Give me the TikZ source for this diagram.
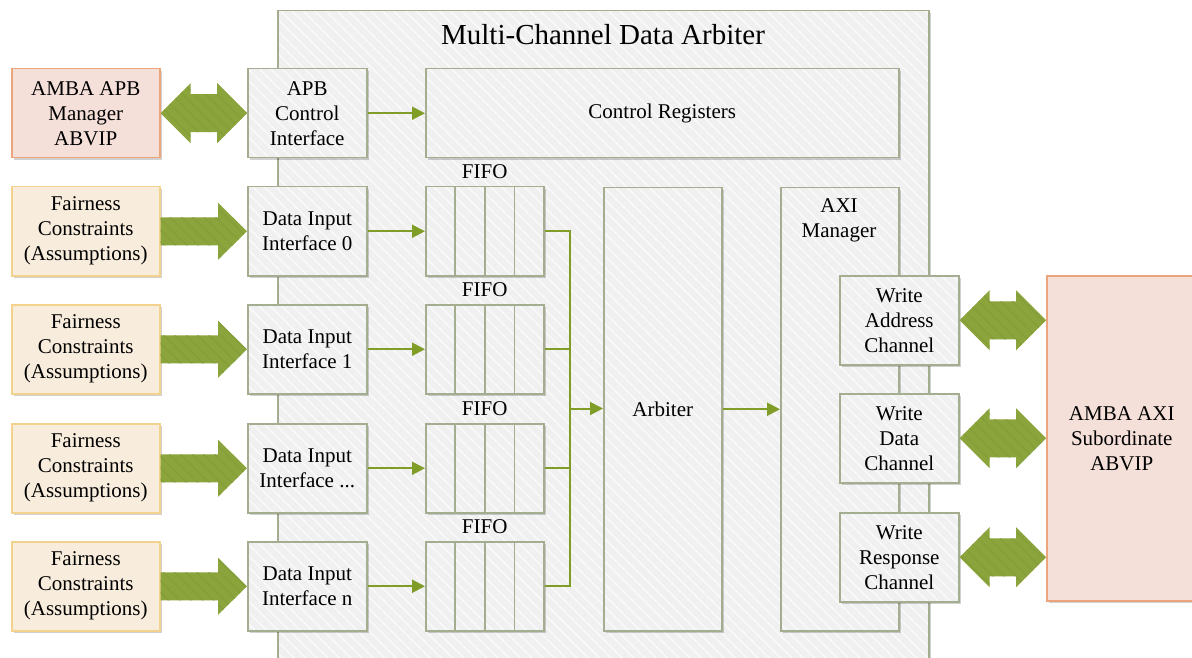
\documentclass[tikz,border=0pt]{standalone}
\usepackage{fontspec}
\setmainfont{Liberation Serif}
\usetikzlibrary{calc,shadows,patterns.meta,arrows.meta}
\definecolor{boxfill}{RGB}{240,240,240}
\definecolor{boxline}{RGB}{165,173,145}
\definecolor{pinkfill}{RGB}{244,223,217}
\definecolor{pinkline}{RGB}{236,164,122}
\definecolor{creamfill}{RGB}{248,236,220}
\definecolor{creamline}{RGB}{242,210,140}
\definecolor{agreen}{RGB}{139,165,60}
\definecolor{lgreen}{RGB}{128,157,40}
\tikzset{
  base/.style={draw, line width=1.5pt, inner sep=0pt, anchor=north west, align=center,
    font=\fontsize{21}{25}\selectfont,
    drop shadow={shadow xshift=2pt, shadow yshift=-2pt, opacity=0.18, fill=black}},
  hatch/.style={path picture={\fill[pattern={Lines[angle=-45,distance=8pt,line width=1.6pt]}, pattern color=white!60!boxfill]
     (path picture bounding box.south west) rectangle (path picture bounding box.north east);}},
  gbox/.style={base, draw=boxline, fill=boxfill, hatch},
  pbox/.style={base, draw=pinkline, fill=pinkfill},
  cbox/.style={base, draw=creamline, fill=creamfill},
  std/.style={minimum width=119pt, minimum height=89pt},
  lab/.style={font=\fontsize{21}{25}\selectfont, align=center, inner sep=0pt},
  flowline/.style={draw=lgreen, line width=2pt},
  flow/.style={flowline, -{Triangle[length=13pt,width=13pt]}},
  bigarrow/.style={fill=agreen, postaction={pattern={Lines[angle=-45,distance=8pt,line width=1.2pt]}, pattern color=agreen!96!black}}
}
\newcommand\blkone[2]{\fill[bigarrow] ($(#1.east)+(0,14)$) -- ($(#2.west)+(-29,14)$) -- ($(#2.west)+(-29,28.5)$) -- (#2.west) -- ($(#2.west)+(-29,-28.5)$) -- ($(#2.west)+(-29,-14)$) -- ($(#1.east)+(0,-14)$) -- cycle;}
\newcommand\blktwo[2]{\fill[bigarrow] #1 -- ($#1+(30,-30)$) -- ($#1+(30,-19)$) -- ($#2+(-30,-19)$) -- ($#2+(-30,-30)$) -- #2 -- ($#2+(-30,30)$) -- ($#2+(-30,19)$) -- ($#1+(30,19)$) -- ($#1+(30,30)$) -- cycle;}
\begin{document}
\begin{tikzpicture}[x=1pt,y=-1pt]
\useasboundingbox (0,0) rectangle (1192,658);
\clip (0,0) rectangle (1192,658);
\fill[white] (0,0) rectangle (1192,658);
% outer block
\node[gbox, minimum width=651pt, minimum height=680pt] (outer) at (277,10) {};
\node[lab, font=\fontsize{29}{32}\selectfont] (title) at (603,35) {Multi-Channel Data Arbiter};
% left column
\node[pbox, minimum width=148pt, minimum height=89pt] (apbm) at (11,68) {AMBA APB\\Manager\\ABVIP};
\node[cbox, minimum width=148pt, minimum height=89pt] (fa0) at (11,186) {Fairness\\Constraints\\(Assumptions)};
\node[cbox, minimum width=148pt, minimum height=89pt] (fa1) at (11,304) {Fairness\\Constraints\\(Assumptions)};
\node[cbox, minimum width=148pt, minimum height=89pt] (fa2) at (11,423) {Fairness\\Constraints\\(Assumptions)};
\node[cbox, minimum width=148pt, minimum height=89pt] (fa3) at (11,541) {Fairness\\Constraints\\(Assumptions)};
% interfaces
\node[gbox, std] (apbc) at (247,68) {APB\\Control\\Interface};
\node[gbox, std] (d0) at (247,186) {Data Input\\Interface 0};
\node[gbox, std] (d1) at (247,304) {Data Input\\Interface 1};
\node[gbox, std] (d2) at (247,423) {Data Input\\Interface ...};
\node[gbox, std] (d3) at (247,541) {Data Input\\Interface n};
\node[gbox, minimum width=473pt, minimum height=89pt] (creg) at (425,68) {Control Registers};
% FIFOs
\foreach \i/\y in {0/186,1/304,2/423,3/541}{
  \node[gbox, minimum width=118pt, minimum height=89pt] (f\i) at (425,\y) {};
  \foreach \k in {0.25,0.5,0.75}
    \draw[boxline, line width=1.5pt] ($(f\i.north west)!\k!(f\i.north east)$) -- ($(f\i.south west)!\k!(f\i.south east)$);
  \node[lab] (fl\i) at ($(f\i.north)+(0,-14)$) {FIFO};
}
% arbiter and AXI manager
\node[gbox, minimum width=118pt, minimum height=443pt] (arb) at (603,187) {Arbiter};
\node[gbox, minimum width=118pt, minimum height=443pt] (axim) at (780,187) {};
\node[lab] (aximl) at (839,220.5) {AXI\\Manager};
\node[gbox, std] (wa) at (839,275) {Write\\Address\\Channel};
\node[gbox, std] (wd) at (839,393) {Write\\Data\\Channel};
\node[gbox, std] (wr) at (839,512) {Write\\Response\\Channel};
\node[pbox, minimum width=150pt, minimum height=325pt] (axis) at (1046,275) {AMBA AXI\\Subordinate\\ABVIP};
% thin flows
\draw[flow] (apbc) -- (creg);
\foreach \i in {0,1,2,3}{\draw[flow] (d\i) -- (f\i);}
\coordinate (m) at (570,408.5);
\foreach \i in {0,1,2,3}{\draw[flowline] (f\i.east) -| (m);}
\draw[flow] (m) -- (m -| arb.west);
\draw[flow] (arb.east) -- (axim.west);
% block arrows
\blktwo{(apbm.east)}{(apbc.west)}
\foreach \i in {0,1,2,3}{\blkone{fa\i}{d\i}}
\coordinate (wat) at (wa.east -| axis.west);
\coordinate (wdt) at (wd.east -| axis.west);
\coordinate (wrt) at (wr.east -| axis.west);
\blktwo{(wa.east)}{(wat)}
\blktwo{(wd.east)}{(wdt)}
\blktwo{(wr.east)}{(wrt)}
\end{tikzpicture}
\end{document}
